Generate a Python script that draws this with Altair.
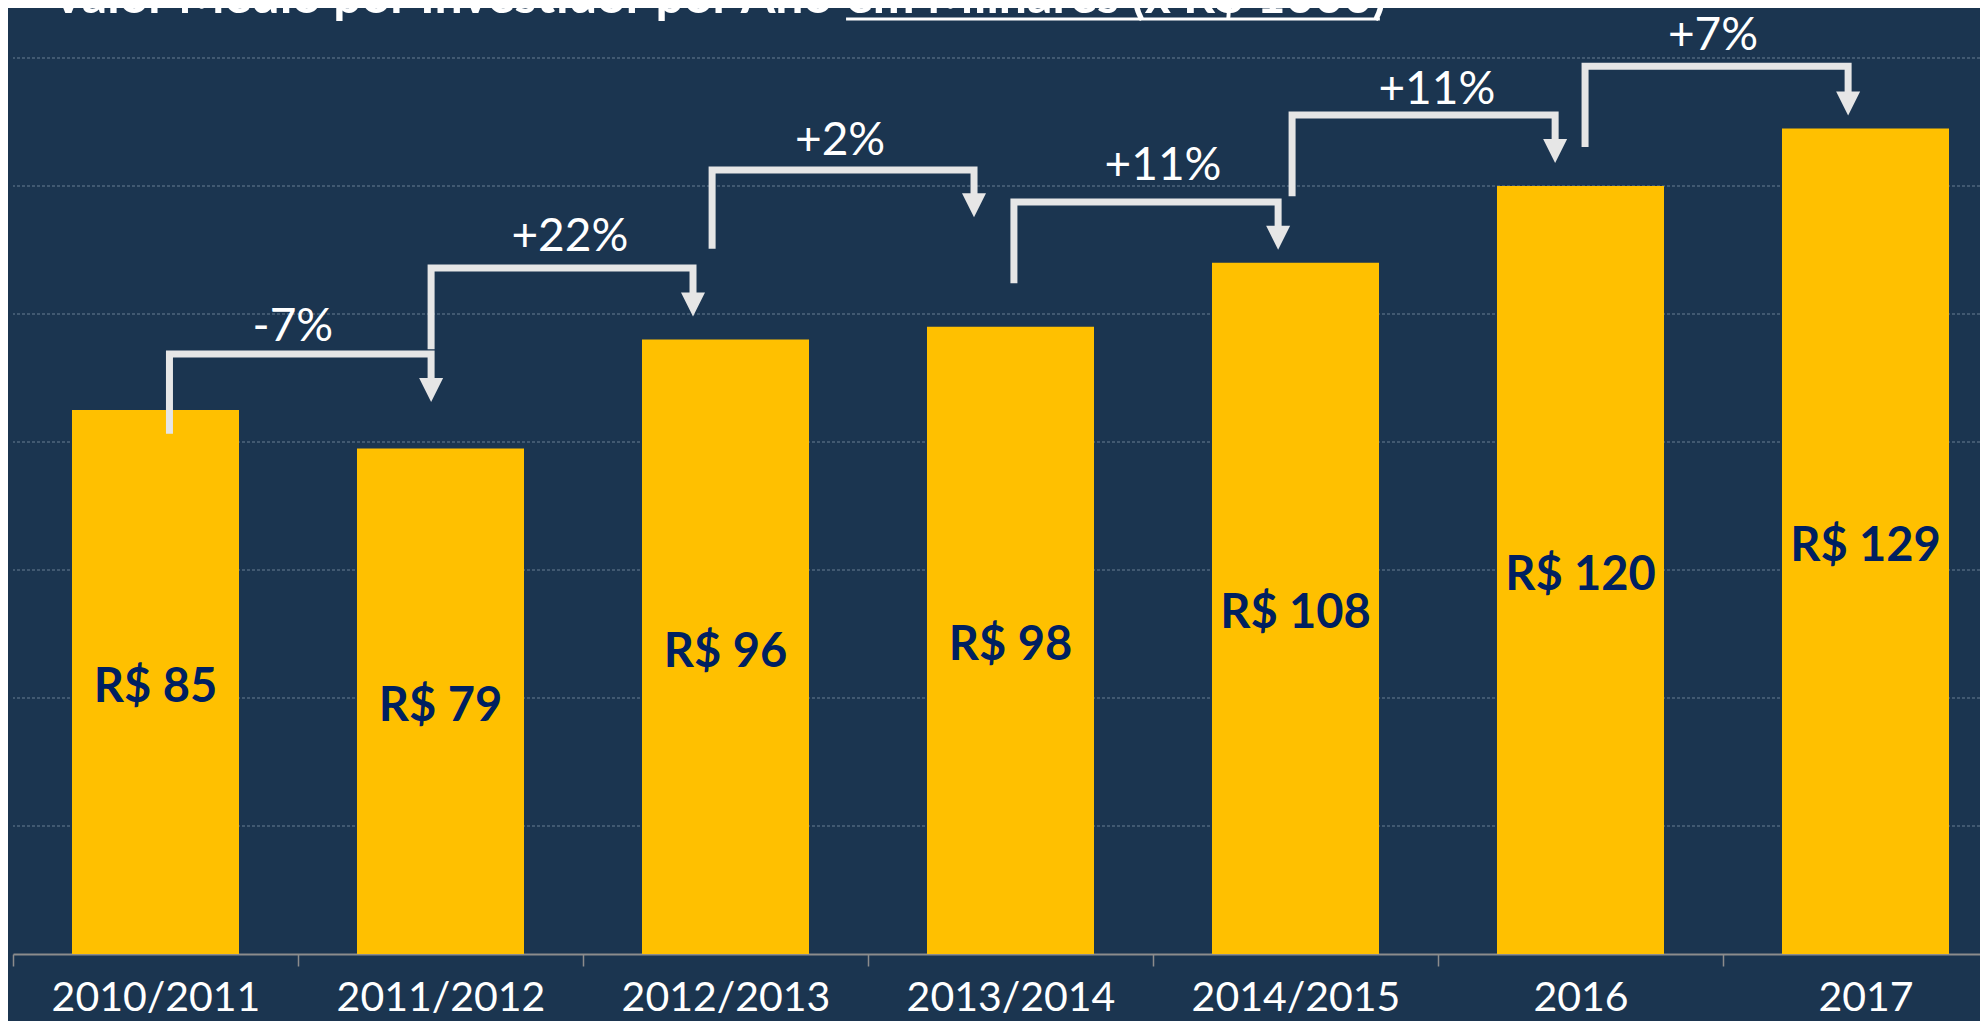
import altair as alt
import pandas as pd

# ---------------- data ----------------
categories = ["2010/2011", "2011/2012", "2012/2013", "2013/2014", "2014/2015", "2016", "2017"]
values = [85, 79, 96, 98, 108, 120, 129]
value_labels = ["R$ 85", "R$ 79", "R$ 96", "R$ 98", "R$ 108", "R$ 120", "R$ 129"]
grid_values = [20, 40, 60, 80, 100, 120, 140]

changes = ["-7%", "+22%", "+2%", "+11%", "+11%", "+7%"]
# connector geometry: x in category units (bar i centred on i + 0.5), y in value units
arrow_x_from = [0.549, 1.467, 2.453, 3.512, 4.488, 5.516]
arrow_x_to = [1.467, 2.386, 3.372, 4.439, 5.411, 6.439]
arrow_y_from = [81.3, 94.5, 110.2, 104.8, 118.4, 126.1]
arrow_y_level = [93.75, 107.2, 122.5, 117.5, 131.1, 138.7]
arrow_y_head = [90.0, 103.3, 118.75, 113.6, 127.3, 134.7]
arrow_y_tip = [86.25, 99.7, 115.2, 110.2, 123.6, 131.1]
change_x = [0.982, 1.954, 2.902, 4.035, 4.996, 5.965]
change_y = [98.6, 112.7, 127.7, 123.75, 135.6, 144.1]

title_parts = ["Valor Médio por Investidor por Ano", "em Milhares (x R$ 1000)"]
title_x = [0.133, 2.923]
title_y = [147.0, 147.0]
underline_x = [2.923, 4.796]
underline_y = [146.1]

# ---------------- styling ----------------
BG = "#1b3550"
GOLD = "#FFC000"
NAVY = "#002060"
ARROW = "#e6e6e6"
FONT = "Lato"
RANGE = [0, 1995]

ydom = alt.Scale(domain=[0, 140], nice=False, zero=False)

bars_df = pd.DataFrame({"category": categories, "value": values, "label": value_labels})
grid_df = pd.DataFrame({"g": grid_values})

xband = alt.X(
    "category:N",
    sort=categories,
    scale=alt.Scale(domain=categories, range=RANGE, paddingInner=0, paddingOuter=0),
    axis=alt.Axis(
        title=None, labelAngle=0, labelFont=FONT, labelFontSize=41, labelColor="white",
        labelPadding=12, labelBaseline="top", labelLimit=0, domainColor="#8c8c8c", domainWidth=2,
        tickColor="#8c8c8c", tickSize=12, tickWidth=1.5, tickBand="extent", grid=False,
    ),
)

gridlines = alt.Chart(grid_df).mark_rule(
    color="#8496aa", opacity=0.75, strokeWidth=1, strokeDash=[3, 2]
).encode(
    y=alt.Y("g:Q", scale=ydom, axis=None),
)

base = alt.Chart(bars_df).encode(x=xband)

bars = base.mark_bar(color=GOLD, width=alt.RelativeBandSize(0.586)).encode(
    y=alt.Y("value:Q", scale=ydom, axis=None)
)

bar_text = base.transform_calculate(half="datum.value / 2").mark_text(
    font=FONT, fontSize=47, fontWeight="bold", color=NAVY, baseline="middle", align="center", dy=6
).encode(
    y=alt.Y("half:Q", scale=ydom, axis=None),
    text="label:N",
)

band_layer = alt.layer(gridlines, bars, bar_text)

# connectors
rows = []
for k in range(len(changes)):
    pts = [
        (arrow_x_from[k], arrow_y_from[k]),
        (arrow_x_from[k], arrow_y_level[k]),
        (arrow_x_to[k], arrow_y_level[k]),
        (arrow_x_to[k], arrow_y_head[k]),
    ]
    for j, (xx, yy) in enumerate(pts):
        rows.append({"arrow": k, "step": j, "x": xx, "y": yy})
lines_df = pd.DataFrame(rows)

heads_df = pd.DataFrame({
    "x": arrow_x_to,
    "head": arrow_y_head,
    "tip": arrow_y_tip,
})

changes_df = pd.DataFrame({"x": change_x, "y": change_y, "text": changes})
title_df = pd.DataFrame({"x": title_x, "y": title_y, "text": title_parts})
under_df = pd.DataFrame({"x": [underline_x[0]], "x2": [underline_x[1]], "y": underline_y})

xq = alt.Scale(domain=[0, 7], range=RANGE, nice=False, zero=False)

arrow_lines = alt.Chart(lines_df).mark_line(
    color=ARROW, strokeWidth=7, strokeJoin="miter", strokeCap="butt"
).encode(
    x=alt.X("x:Q", scale=xq, axis=None),
    y=alt.Y("y:Q", scale=ydom, axis=None),
    detail="arrow:N",
    order="step:Q",
)

arrow_heads = alt.Chart(heads_df).transform_calculate(
    mid="(datum.head + datum.tip) / 2"
).mark_point(
    shape="M-1,-1L1,-1L0,1Z", size=576, filled=True, color=ARROW, opacity=1, strokeWidth=0
).encode(
    x=alt.X("x:Q", scale=xq, axis=None),
    y=alt.Y("mid:Q", scale=ydom, axis=None),
)

change_text = alt.Chart(changes_df).mark_text(
    font=FONT, fontSize=46, color="white", align="center", baseline="middle", dy=4
).encode(
    x=alt.X("x:Q", scale=xq, axis=None),
    y=alt.Y("y:Q", scale=ydom, axis=None),
    text="text:N",
)

title_text = alt.Chart(title_df).mark_text(
    font=FONT, fontSize=50, fontWeight="bold", color="white", align="left", baseline="alphabetic"
).encode(
    x=alt.X("x:Q", scale=xq, axis=None),
    y=alt.Y("y:Q", scale=ydom, axis=None),
    text="text:N",
)

underline = alt.Chart(under_df).mark_rule(color="white", strokeWidth=3).encode(
    x=alt.X("x:Q", scale=xq, axis=None),
    x2="x2:Q",
    y=alt.Y("y:Q", scale=ydom, axis=None),
)

q_layer = alt.layer(arrow_lines, arrow_heads, change_text, title_text, underline)

chart = alt.layer(band_layer, q_layer).resolve_scale(x="independent").properties(
    width=1967,
    height=896,
    background=BG,
    autosize=alt.AutoSizeParams(type="none"),
    padding={"left": 5, "top": 50, "right": 0, "bottom": 67},
).configure_view(stroke=None)

chart.save("out.html", embed_options={"renderer": "svg", "actions": False})
